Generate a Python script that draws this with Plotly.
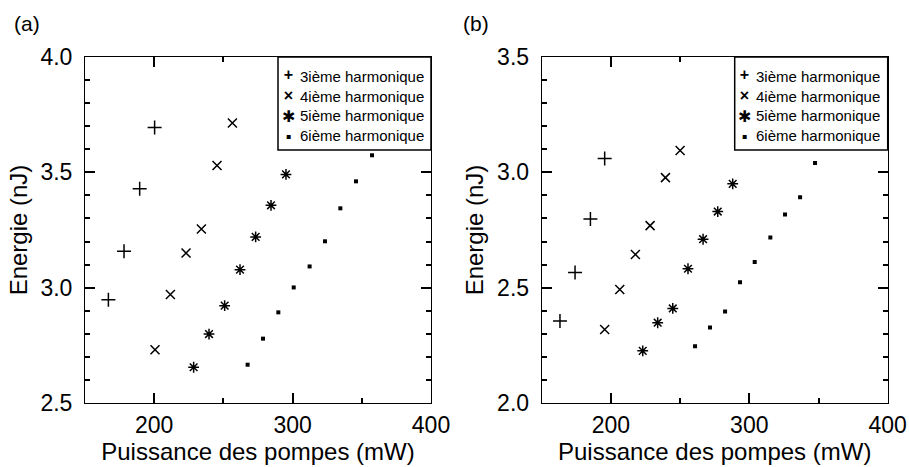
import plotly.graph_objects as go

# Panel (a)
a_h3_x = [166.9, 178.2, 189.5, 200.3]
a_h3_y = [2.948, 3.158, 3.429, 3.694]
a_h4_x = [200.6, 211.7, 223.0, 234.1, 245.4, 256.5]
a_h4_y = [2.731, 2.970, 3.150, 3.254, 3.530, 3.714]
a_h5_x = [228.5, 239.6, 250.9, 262.0, 273.3, 284.4, 295.2]
a_h5_y = [2.655, 2.799, 2.922, 3.078, 3.220, 3.357, 3.491]
a_h6_x = [267.5, 278.6, 289.7, 300.8, 312.3, 323.4, 334.5, 345.8, 357.4]
a_h6_y = [2.666, 2.779, 2.893, 3.001, 3.092, 3.201, 3.344, 3.461, 3.574]

# Panel (b)
b_h3_x = [163.2, 174.1, 185.2, 195.5]
b_h3_y = [2.356, 2.566, 2.798, 3.060]
b_h4_x = [195.5, 206.4, 217.7, 228.3, 239.4, 250.0]
b_h4_y = [2.319, 2.492, 2.644, 2.769, 2.977, 3.095]
b_h5_x = [223.0, 233.8, 244.7, 255.7, 266.6, 277.2, 288.0]
b_h5_y = [2.226, 2.348, 2.410, 2.582, 2.710, 2.830, 2.950]
b_h6_x = [260.8, 271.6, 282.5, 293.3, 303.9, 315.2, 325.8, 336.7, 347.5]
b_h6_y = [2.246, 2.327, 2.397, 2.524, 2.611, 2.717, 2.817, 2.892, 3.041]

names = ["3ième harmonique", "4ième harmonique", "5ième harmonique", "6ième harmonique"]
legend_glyphs = ["<b>+</b>", "<b>×</b>", "✱", "▪"]
panel_labels = ["(a)", "(b)"]
x_title = "Puissance des pompes (mW)"
y_title = "Energie (nJ)"

FONT = "Liberation Sans, Arial, sans-serif"
symbols = ["cross-thin", "x-thin", "asterisk", "square"]
sizes = [10, 9, 9, 4]

W, H = 909, 467
fig = go.Figure()

panels = [
    [(a_h3_x, a_h3_y), (a_h4_x, a_h4_y), (a_h5_x, a_h5_y), (a_h6_x, a_h6_y)],
    [(b_h3_x, b_h3_y), (b_h4_x, b_h4_y), (b_h5_x, b_h5_y), (b_h6_x, b_h6_y)],
]
axis_ids = [("x", "y"), ("x2", "y2")]
for p, series in enumerate(panels):
    for i, (xs, ys) in enumerate(series):
        fig.add_trace(go.Scatter(
            x=xs, y=ys, mode="markers", name=names[i], showlegend=False,
            xaxis=axis_ids[p][0], yaxis=axis_ids[p][1],
            marker=dict(symbol=symbols[i], size=sizes[i], color="black",
                        line=dict(color="black", width=1.5 if i < 3 else 0)),
        ))

plot_left = [85, 541.7]
plot_right = [431, 887.7]
plot_top, plot_bottom = 57, 403
xd = [[plot_left[p] / W, plot_right[p] / W] for p in range(2)]
yd = [(H - plot_bottom) / H, (H - plot_top) / H]
xrange_ = [150, 400]
yranges = [[2.5, 4.0], [2.0, 3.5]]

tf = dict(family=FONT, size=23, color="black")
ttf = dict(family=FONT, size=24, color="black")

layout = dict(width=W, height=H, margin=dict(l=0, r=0, t=0, b=0),
              paper_bgcolor="white", plot_bgcolor="white", showlegend=False)
for p in range(2):
    sx = "" if p == 0 else "2"
    layout["xaxis" + sx] = dict(
        domain=xd[p], range=xrange_, dtick=100, tick0=0, anchor="y" + sx,
        showline=True, linecolor="black", linewidth=1, mirror="allticks",
        ticks="inside", ticklen=10, tickwidth=1.5, tickcolor="black",
        minor=dict(dtick=50, ticklen=5, tickwidth=1.5, ticks="inside",
                   tickcolor="black", showgrid=False),
        showgrid=False, zeroline=False, automargin=False,
        ticklabelstandoff=1, tickfont=tf,
        title=dict(text=x_title, font=ttf, standoff=5))
    layout["yaxis" + sx] = dict(
        domain=yd, range=yranges[p], dtick=0.5, tick0=0, tickformat=".1f", anchor="x" + sx,
        showline=True, linecolor="black", linewidth=1, mirror="allticks",
        ticks="inside", ticklen=10, tickwidth=1.5, tickcolor="black",
        minor=dict(dtick=0.1, ticklen=5, tickwidth=1.5, ticks="inside",
                   tickcolor="black", showgrid=False),
        showgrid=False, zeroline=False, automargin=False,
        ticklabelstandoff=7, tickfont=tf,
        title=dict(text=y_title, font=ttf, standoff=6))
fig.update_layout(**layout)

for p in range(2):
    fig.add_annotation(text=panel_labels[p], xref="paper", yref="paper",
                       x=[12 / W, 461 / W][p], y=1 - 10 / H, xanchor="left", yanchor="top",
                       showarrow=False, font=dict(family=FONT, size=21, color="black"))
    # legend box (top-right corner of each panel)
    box_l = plot_right[p] - 153
    box_b = plot_top + 93
    fig.add_shape(type="rect", xref="paper", yref="paper",
                  x0=box_l / W, x1=plot_right[p] / W,
                  y0=1 - box_b / H, y1=1 - plot_top / H,
                  line=dict(color="black", width=1.5), fillcolor="white", layer="above")
    yc = 1 - (plot_top + 48.5) / H
    fig.add_annotation(text="<br>".join(legend_glyphs), xref="paper", yref="paper",
                       x=(box_l + 10) / W, y=yc, xanchor="center", yanchor="middle",
                       align="center", showarrow=False,
                       font=dict(family=FONT, size=16, color="black"))
    fig.add_annotation(text="<br>".join(names), xref="paper", yref="paper",
                       x=(box_l + 19.5) / W, y=yc, xanchor="left", yanchor="middle",
                       align="left", showarrow=False,
                       font=dict(family=FONT, size=15, color="black"))

fig.write_html("out.html", config={"displayModeBar": False},
               post_script="document.body.style.margin='0';document.body.style.overflow='hidden';")
